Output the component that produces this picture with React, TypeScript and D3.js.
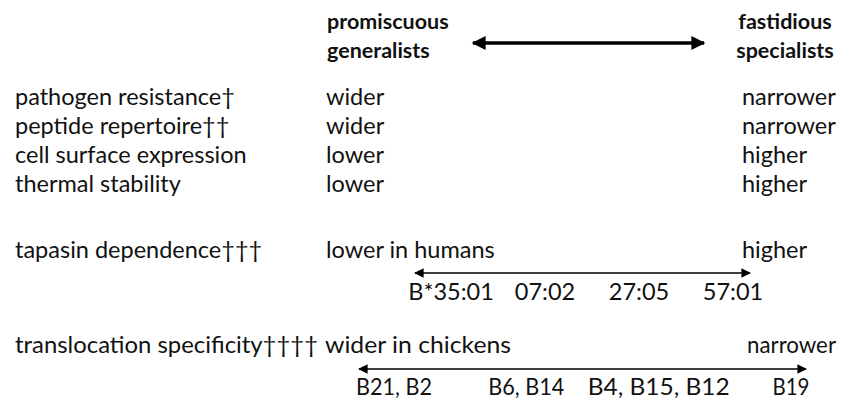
import * as d3 from 'd3'

const headerLeft = ['promiscuous', 'generalists']
const headerRight = ['fastidious', 'specialists']

const traits = ['pathogen resistance†', 'peptide repertoire††', 'cell surface expression', 'thermal stability']
const generalistValues = ['wider', 'wider', 'lower', 'lower']
const specialistValues = ['narrower', 'narrower', 'higher', 'higher']

const tapasinRow = { label: 'tapasin dependence†††', low: 'lower in humans', high: 'higher' }
const tapasinAlleles = ['B*35:01', '07:02', '27:05', '57:01']

const chickenRow = { label: 'translocation specificity††††', low: 'wider in chickens', high: 'narrower' }
const chickenAlleles = ['B21, B2', 'B6, B14', 'B4, B15, B12', 'B19']

const W = 848
const H = 401
const FONT = 'Lato, "Open Sans", sans-serif'
const FS = 23.5
const COL_LABEL = 15
const COL_LOW = 326
const COL_HIGH = 742

export default function App() {
  const rowY = d3.scalePoint<string>().domain(traits).range([105, 192])
  const headY = d3.scalePoint<string>().domain(['0', '1']).range([29, 58])
  const tapX = d3.scalePoint<string>().domain(tapasinAlleles).range([451, 733])
  const chickX = d3.scalePoint<string>().domain(chickenAlleles).range([394, 791])

  const txt = { fontFamily: FONT, fontSize: FS, fill: '#111' }
  // the translocation row is drawn condensed in the original
  const squeezed = (x: number, y: number, s: string, len: number) => (
    <text x={x} y={y} textLength={len} lengthAdjust="spacingAndGlyphs" {...txt}>
      {s}
    </text>
  )
  const chickLen = [76, 76, 142, 37]

  return (
    <svg width={W} height={H} style={{ position: 'absolute', left: 0, top: 0, background: '#fff' }}>
      <defs>
        <marker id="bigHead" viewBox="0 0 10 10" refX="9" refY="5" markerWidth="4.2" markerHeight="4" orient="auto-start-reverse" markerUnits="strokeWidth">
          <path d="M0,0 L10,5 L0,10 z" fill="#000" />
        </marker>
        <marker id="smallHead" viewBox="0 0 10 10" refX="9" refY="5" markerWidth="7" markerHeight="6" orient="auto-start-reverse" markerUnits="strokeWidth">
          <path d="M0,0 L10,5 L0,10 z" fill="#000" />
        </marker>
      </defs>

      {/* header */}
      {headerLeft.map((s, i) => (
        <text key={s} x={327} y={headY(String(i))} {...txt} fontSize={21.5} fontWeight="bold">{s}</text>
      ))}
      {headerRight.map((s, i) => (
        <text key={s} x={785} y={headY(String(i))} textAnchor="middle" {...txt} fontSize={21.5} fontWeight="bold">{s}</text>
      ))}
      <line x1={473} x2={704} y1={43} y2={43} stroke="#000" strokeWidth={3.5}
        markerStart="url(#bigHead)" markerEnd="url(#bigHead)" />

      {/* trait rows */}
      {traits.map((t, i) => (
        <g key={t}>
          <text x={COL_LABEL} y={rowY(t)} {...txt}>{t}</text>
          <text x={COL_LOW} y={rowY(t)} {...txt}>{generalistValues[i]}</text>
          <text x={COL_HIGH} y={rowY(t)} {...txt}>{specialistValues[i]}</text>
        </g>
      ))}

      {/* tapasin */}
      <text x={COL_LABEL} y={258} {...txt}>{tapasinRow.label}</text>
      <text x={COL_LOW} y={258} {...txt}>{tapasinRow.low}</text>
      <text x={COL_HIGH} y={258} {...txt}>{tapasinRow.high}</text>
      <line x1={415} x2={750} y1={273} y2={273} stroke="#000" strokeWidth={1.6}
        markerStart="url(#smallHead)" markerEnd="url(#smallHead)" />
      {tapasinAlleles.map(a => (
        <text key={a} x={tapX(a)} y={300} textAnchor="middle" {...txt}>{a}</text>
      ))}

      {/* translocation */}
      {squeezed(COL_LABEL, 353, chickenRow.label, 303)}
      {squeezed(325, 353, chickenRow.low, 186)}
      {squeezed(747, 353, chickenRow.high, 89)}
      <line x1={359} x2={806} y1={369} y2={369} stroke="#000" strokeWidth={1.6}
        markerStart="url(#smallHead)" markerEnd="url(#smallHead)" />
      {chickenAlleles.map((a, i) => (
        <g key={a}>{squeezed((chickX(a) ?? 0) - chickLen[i] / 2, 395, a, chickLen[i])}</g>
      ))}
    </svg>
  )
}
